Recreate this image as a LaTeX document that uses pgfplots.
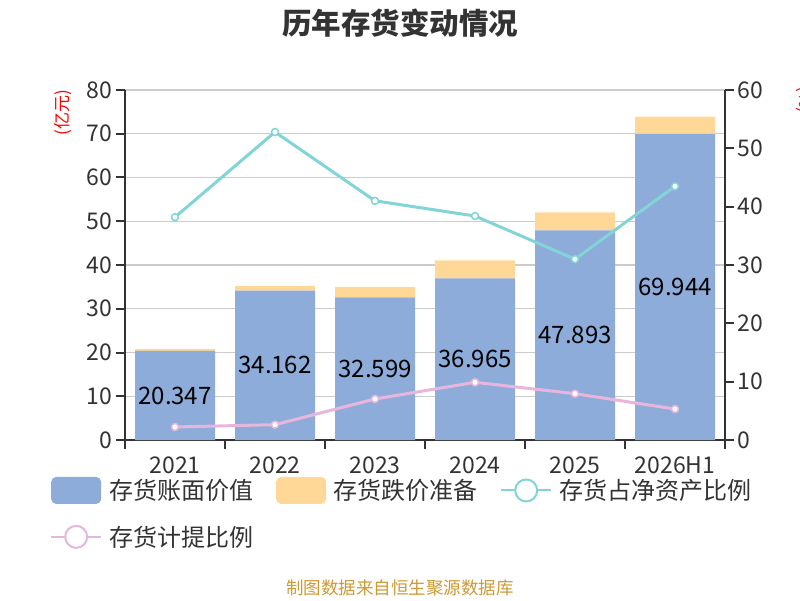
\documentclass[border=0pt]{standalone}
\usepackage{pgfplots}
\pgfplotsset{compat=1.18}
\usepackage{fontspec}
\setmainfont{Noto Sans CJK SC}
\definecolor{cBlue}{RGB}{142,172,218}
\definecolor{cOrange}{RGB}{255,216,152}
\definecolor{cCyan}{RGB}{130,212,214}
\definecolor{cPink}{RGB}{232,182,220}
\definecolor{cText}{RGB}{51,51,51}
\definecolor{cGrid}{RGB}{204,204,204}
\definecolor{cSrc}{RGB}{204,153,51}

\pgfplotstableread{
x book reserve
0 20.347 0.40
1 34.162 1.00
2 32.599 2.40
3 36.965 4.10
4 47.893 4.15
5 69.944 3.95
}\bars

\pgfplotstableread{
x share prov
0 38.2 2.23
1 52.8 2.63
2 41.0 7.03
3 38.4 9.89
4 31.0 7.94
5 43.5 5.31
}\lines

\begin{document}
\begin{tikzpicture}[x=1pt,y=1pt]
\useasboundingbox (0,0) rectangle (800,600);
\begin{axis}[
  at={(125pt,160pt)}, anchor=south west,
  scale only axis, width=600pt, height=350pt,
  xmin=-0.5, xmax=5.5, ymin=0, ymax=80,
  ybar stacked, bar width=80pt,
  axis y line*=left, axis x line*=bottom,
  axis line style={draw=cText, line width=2pt},
  xtick={-0.5,0.5,...,5.5}, xticklabels={},
  extra x ticks={0,1,2,3,4,5},
  extra x tick labels={2021,2022,2023,2024,2025,2026H1},
  extra x tick style={major tick length=0pt, grid=none},
  ytick={0,10,...,80},
  ymajorgrids, grid style={draw=cGrid, line width=1.4pt},
  tick align=outside, major tick length=9pt,
  tick style={draw=cText, line width=2pt},
  ticklabel style={font=\fontsize{23}{23}\selectfont, text=cText},
  /pgf/number format/assume math mode=true,
  xticklabel style={yshift=-13pt},
  legend columns=3,
  legend cell align=left,
  legend style={at={(-0.125,-0.105)}, anchor=north west, draw=none, fill=none,
    inner sep=0pt, font=\fontsize{24}{24}\selectfont, text=cText,
    /tikz/every odd column/.append style={column sep=5pt},
    /tikz/every even column/.append style={column sep=21pt},
    row sep=20pt},
]
\addplot[fill=cBlue, draw=none,
  nodes near coords={\pgfmathprintnumber[fixed,fixed zerofill,precision=3]{\pgfplotspointmeta}},
  every node near coord/.append style={anchor=center,
     font=\fontsize{24}{24}\selectfont, text=black},
  legend image code/.code={\fill[cBlue, rounded corners=5pt] (0pt,-13.5pt) rectangle (50pt,13.5pt);}
] table[x=x, y=book] {\bars};
\addlegendentry{存货账面价值}
\addplot[fill=cOrange, draw=none,
  legend image code/.code={\fill[cOrange, rounded corners=5pt] (0pt,-13.5pt) rectangle (50pt,13.5pt);}
] table[x=x, y=reserve] {\bars};
\addlegendentry{存货跌价准备}
\addlegendimage{legend image code/.code={\draw[cCyan, line width=2pt] (0pt,0pt)--(50pt,0pt); \draw[cCyan, line width=2pt, fill=white] (25pt,0pt) circle (11pt);}}
\addlegendentry{存货占净资产比例}
\addlegendimage{legend image code/.code={\draw[cPink, line width=2pt] (0pt,0pt)--(50pt,0pt); \draw[cPink, line width=2pt, fill=white] (25pt,0pt) circle (11pt);}}
\addlegendentry{存货计提比例}
\end{axis}

\begin{axis}[
  at={(125pt,160pt)}, anchor=south west,
  scale only axis, width=600pt, height=350pt,
  xmin=-0.5, xmax=5.5, ymin=0, ymax=60,
  axis y line*=right, axis x line=none,
  axis line style={draw=cText, line width=2pt},
  ytick={0,10,...,60},
  tick align=outside, major tick length=9pt,
  tick style={draw=cText, line width=2pt},
  ticklabel style={font=\fontsize{23}{23}\selectfont, text=cText},
  /pgf/number format/assume math mode=true,
]
\addplot[cCyan, line width=3pt, mark=*, mark size=3.5pt,
  mark options={fill=white, draw=cCyan, line width=1.5pt}] table[x=x, y=share] {\lines};
\addplot[cPink, line width=3pt, mark=*, mark size=3.5pt,
  mark options={fill=white, draw=cPink, line width=1.5pt}] table[x=x, y=prov] {\lines};
\end{axis}

\node[font=\bfseries\fontsize{29.5}{29.5}\selectfont, text=cText] at (400,577) {历年存货变动情况};
\node[text=red, rotate=90, font=\fontsize{17}{17}\selectfont] at (63,487) {(亿元)};
\node[text=red, rotate=-90, font=\fontsize{17}{17}\selectfont] at (805,500) {(\%)};
\node[text=cSrc, font=\fontsize{17.5}{17.5}\selectfont] at (400,12) {制图数据来自恒生聚源数据库};
\end{tikzpicture}
\end{document}
